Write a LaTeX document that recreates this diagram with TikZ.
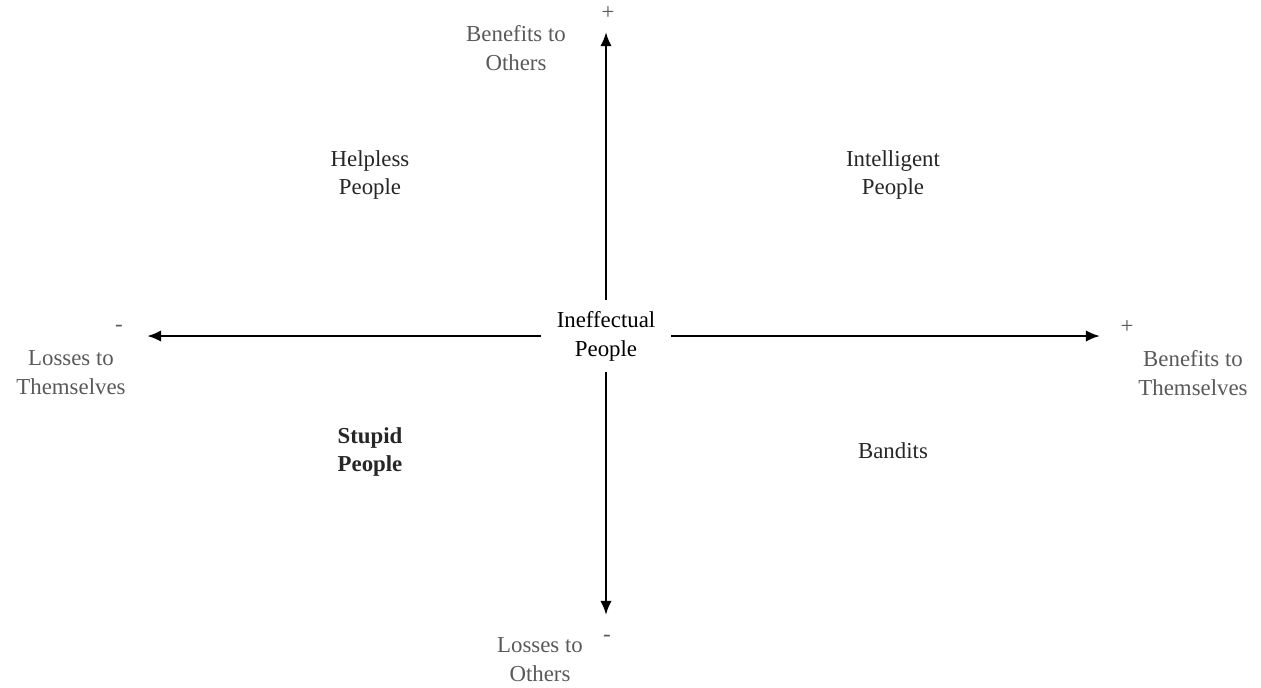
\documentclass[tikz,border=0pt]{standalone}
\usepackage{fontspec}
\setmainfont{Liberation Serif}
\usetikzlibrary{arrows.meta}
\usetikzlibrary{positioning}

\definecolor{axisgray}{HTML}{595959}
\definecolor{quadgray}{HTML}{262626}

\tikzset{
    axislabel/.style={align=center, text=axisgray, inner sep=0pt},
    quadlabel/.style={align=center, text=quadgray, inner sep=0pt},
    sign/.style={text=axisgray, inner sep=0pt},
    axis/.style={line width=1.4pt, >={Latex[length=8pt,width=6.5pt]}}
}

\begin{document}
\begin{tikzpicture}[x=0.02cm, y=-0.02cm, font=\fontsize{13}{16.5}\selectfont]
    \useasboundingbox (0,0) rectangle (1261,687);

    % centre of the two axes
    \draw (606, 336) node[align=center, minimum width=2.6cm, minimum height=1.44cm, inner sep=0pt] (mid) {Ineffectual\\People};

    % axis end points
    \coordinate (top) at (606, 32);
    \coordinate (bottom) at (606, 615);
    \coordinate (left) at (147, 336);
    \coordinate (right) at (1100, 336);

    \draw[axis, ->] (mid.north) -- (top);
    \draw[axis, ->] (mid.south) -- (bottom);
    \draw[axis, ->] (mid.west) -- (left);
    \draw[axis, ->] (mid.east) -- (right);

    % signs
    \draw (608, 13) node[sign] (topsign) {+};
    \draw (607, 638) node[sign] (bottomsign) {-};
    \draw (119, 328) node[sign] (leftsign) {-};
    \draw (1127, 327) node[sign] (rightsign) {+};

    % axis names
    \draw (516, 48) node[axislabel] (benefitsothers) {Benefits to\\Others};
    \draw (540, 660) node[axislabel] (lossesothers) {Losses to\\Others};
    \draw (71, 373) node[axislabel] (lossesself) {Losses to\\Themselves};
    \draw (1193, 373) node[axislabel] (benefitsself) {Benefits to\\Themselves};

    % quadrants
    \draw (370, 175) node[quadlabel] (helpless) {Helpless\\People};
    \draw (893, 175) node[quadlabel] (intelligent) {Intelligent\\People};
    \draw (370, 452) node[quadlabel, font=\fontsize{13}{16.5}\selectfont\bfseries] (stupid) {Stupid\\People};
    \draw (893, 451) node[quadlabel] (bandits) {Bandits};

\end{tikzpicture}
\end{document}
